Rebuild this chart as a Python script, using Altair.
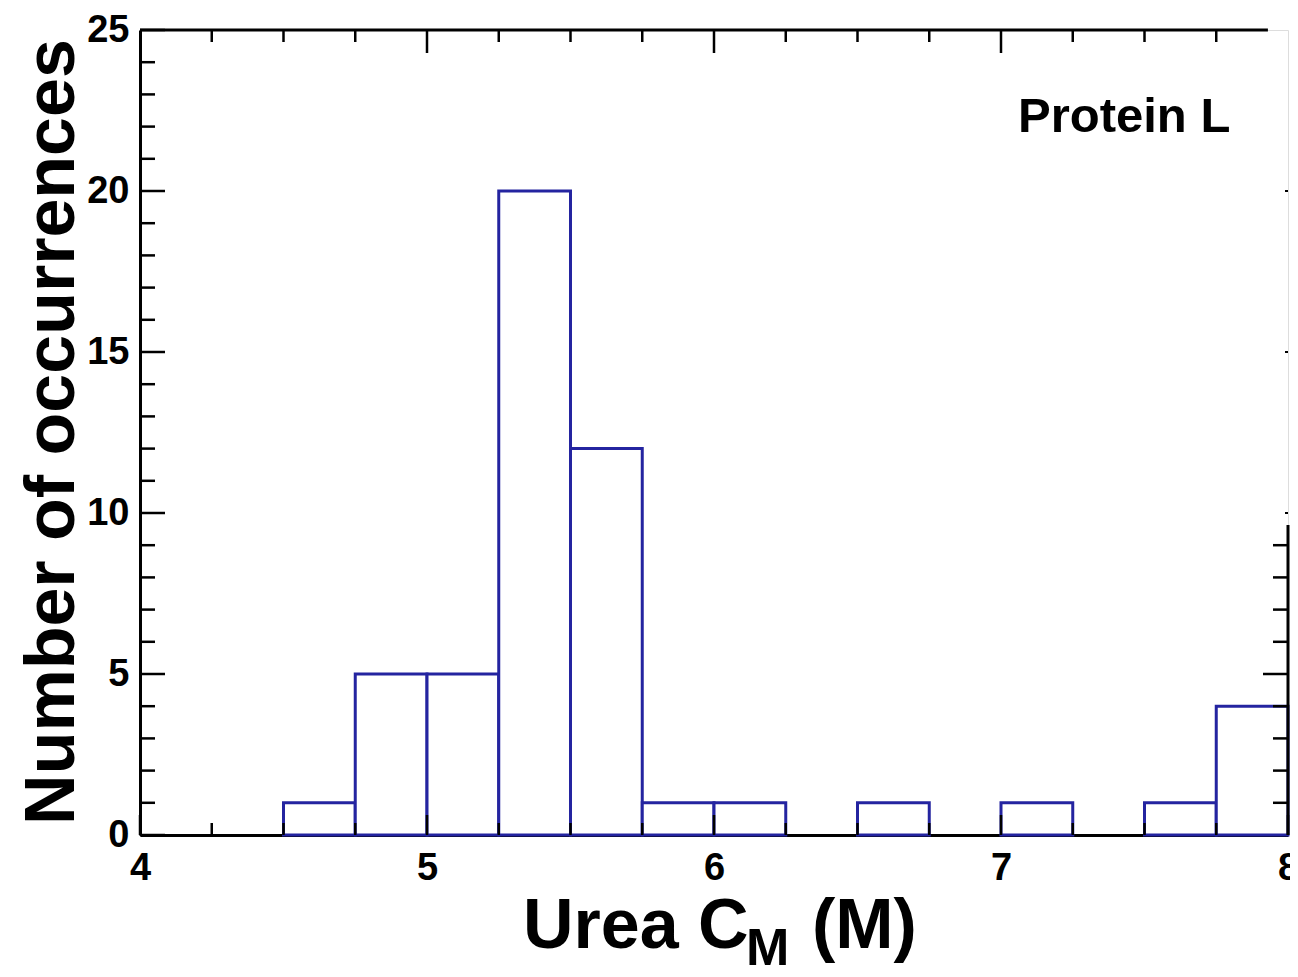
import altair as alt
import pandas as pd

# ---- data ----
bin_start = [4.50, 4.75, 5.00, 5.25, 5.50, 5.75, 6.00, 6.50, 7.00, 7.50, 7.75]
bin_end   = [4.75, 5.00, 5.25, 5.50, 5.75, 6.00, 6.25, 6.75, 7.25, 7.75, 8.00]
counts    = [1, 5, 5, 20, 12, 1, 1, 1, 1, 1, 4]

x_major = [4, 5, 6, 7, 8]
x_minor = [4.25, 4.5, 4.75, 5.25, 5.5, 5.75, 6.25, 6.5, 6.75, 7.25, 7.5, 7.75]
x_top_major = [5, 6, 7]
y_major = [0, 5, 10, 15, 20, 25]
y_minor = [1, 2, 3, 4, 6, 7, 8, 9, 11, 12, 13, 14, 16, 17, 18, 19, 21, 22, 23, 24]
y_right_major = [5]
y_right_minor = [1, 2, 3, 4, 6, 7, 8, 9]
y_right_dots = [10, 15, 20]

annotation = "Protein L"
x_title_main = "Urea C"
x_title_sub = "M"
x_title_tail = "(M)"
y_title = "Number of occurrences"

W, H = 1148, 805
FONT = "Liberation Sans"
BLUE = "#2424a0"

xs = alt.Scale(domain=[4, 8], nice=False, zero=False)
ys = alt.Scale(domain=[0, 25], nice=False)

XAX = alt.Axis(values=x_major, ticks=False, grid=False, title=None,
               labelFontSize=38, labelFont=FONT, labelFontWeight="bold",
               labelColor="black", labelPadding=14, domainColor="black",
               domainWidth=3, format="d", labelFlush=False)
YAX = alt.Axis(values=y_major, ticks=False, grid=False, title=None,
               labelFontSize=38, labelFont=FONT, labelFontWeight="bold",
               labelColor="black", labelPadding=11, domainColor="black",
               domainWidth=3, format="d", labelFlush=False)

bars_df = pd.DataFrame({"start": bin_start, "end": bin_end, "count": counts,
                        "base": [0] * len(counts)})

bars = alt.Chart(bars_df).mark_rect(fill="white", stroke=BLUE, strokeWidth=3).encode(
    x=alt.X("start:Q", scale=xs, axis=XAX),
    x2="end:Q",
    y=alt.Y("count:Q", scale=ys, axis=YAX),
    y2="base:Q",
)

def xticks(vals, y0, y1):
    return alt.Chart(pd.DataFrame({"v": vals})).mark_rule(color="black", strokeWidth=2.5).encode(
        x=alt.X("v:Q", scale=xs, axis=XAX), y=alt.value(y0), y2=alt.value(y1))

def yticks(vals, x0, x1, w=2.5):
    return alt.Chart(pd.DataFrame({"v": vals})).mark_rule(color="black", strokeWidth=w).encode(
        y=alt.Y("v:Q", scale=ys, axis=YAX), x=alt.value(x0), x2=alt.value(x1))

layers = [
    bars,
    # bottom ticks (inward)
    xticks(x_minor, H, H - 12),
    xticks(x_major, H, H - 20),
    # top ticks
    xticks(x_minor, 0, 12),
    xticks(x_top_major, 0, 23),
    # left ticks
    yticks(y_minor, 0, 15),
    yticks(y_major, 0, 25),
    # right ticks
    yticks(y_right_minor, W, W - 15),
    yticks(y_right_major, W, W - 25),
    yticks(y_right_dots, W - 3, W, 2),
]

# top border (stops a little short of the right edge)
top_border = alt.Chart(pd.DataFrame({"a": [4], "b": [7.93], "y": [25]})).mark_rule(
    color="black", strokeWidth=3).encode(
    x=alt.X("a:Q", scale=xs, axis=XAX), x2="b:Q", y=alt.Y("y:Q", scale=ys, axis=YAX))
# right border (only its lower part is visible)
right_border = alt.Chart(pd.DataFrame({"x": [8], "a": [0], "b": [9.63]})).mark_rule(
    color="black", strokeWidth=3).encode(
    x=alt.X("x:Q", scale=xs, axis=XAX), y=alt.Y("a:Q", scale=ys, axis=YAX), y2="b:Q")
layers += [top_border, right_border]

def label(text, x, y, size, angle=0, align="left"):
    return alt.Chart(pd.DataFrame({"t": [text]})).mark_text(
        font=FONT, fontWeight="bold", fontSize=size, color="black",
        align=align, baseline="alphabetic", angle=angle).encode(
        text="t:N", x=alt.value(x), y=alt.value(y))

layers += [
    label(annotation, 878, 102, 49),
    label(x_title_main, 383, 918, 70),
    label(x_title_sub, 606, 935, 52),
    label(x_title_tail, 672, 918, 70),
    label(y_title, -66, 402, 70, angle=270, align="center"),
]

chart = alt.layer(*layers).properties(
    width=W, height=H,
    autosize=alt.AutoSizeParams(type="none"),
    padding={"left": 132, "top": 22, "right": 2, "bottom": 140},
).configure_view(stroke=None).configure(background="white")

chart.save("out.html", embed_options={"renderer": "svg", "actions": False})
